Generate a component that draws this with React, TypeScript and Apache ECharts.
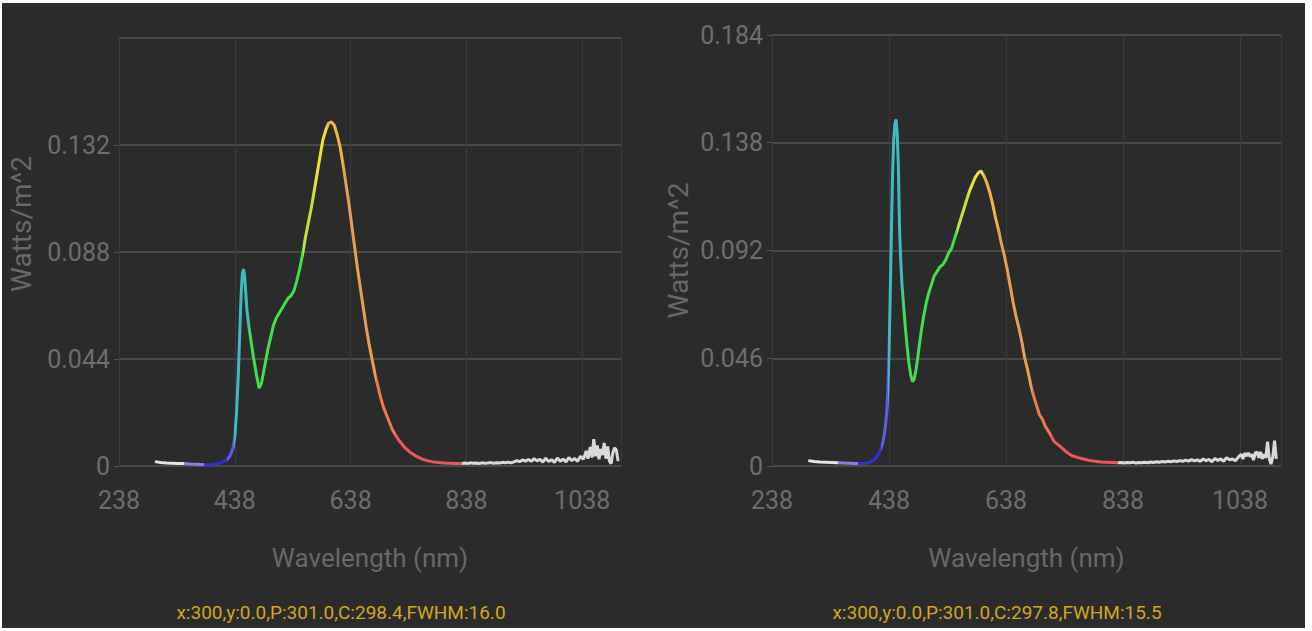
import React, { useEffect, useRef } from "react";
import * as echarts from "echarts";

// ---------- Left spectrum ----------
const leftWavelengths = [
  300, 310, 320, 330, 340, 350, 360, 370, 380, 390, 400, 410, 420, 425, 430, 435, 438, 441, 444, 447,
  449, 451, 453, 455, 457, 459, 462, 465, 470, 475, 480, 484, 488, 492, 496, 500, 505, 510, 515, 520,
  525, 530, 535, 540, 545, 550, 555, 560, 565, 570, 575, 580, 585, 590, 595, 600, 605, 610, 615, 620,
  625, 630, 635, 640, 645, 650, 655, 660, 665, 670, 675, 680, 685, 690, 695, 700, 705, 710, 715, 720,
  730, 740, 750, 760, 770, 780, 790, 800, 810, 820, 830,
  835, 840, 845, 850, 855, 860, 865, 870, 875, 880, 885, 890, 895, 900, 905, 910, 915, 920, 925, 930,
  935, 940, 945, 950, 955, 960, 965, 970, 975, 980, 985, 990, 995, 1000, 1005, 1010, 1015, 1020, 1025, 1030,
  1035, 1040, 1045, 1048, 1052, 1055, 1058, 1061, 1064, 1067, 1070, 1073, 1076, 1079, 1082, 1085, 1088, 1091, 1094, 1097,
  1100,
];
const leftValues = [
  0.0018, 0.0014, 0.0012, 0.0011, 0.001, 0.001, 0.0008, 0.0007, 0.0006, 0.0005, 0.0006, 0.001, 0.002, 0.0028, 0.0042, 0.0075, 0.012, 0.022, 0.037, 0.058,
  0.071, 0.079, 0.081, 0.078, 0.071, 0.064, 0.058, 0.053, 0.045, 0.038, 0.032, 0.034, 0.039, 0.044, 0.049, 0.053, 0.058, 0.061, 0.063, 0.065,
  0.067, 0.069, 0.07, 0.072, 0.076, 0.081, 0.087, 0.094, 0.1, 0.106, 0.113, 0.12, 0.127, 0.134, 0.138, 0.141, 0.1415, 0.14, 0.136, 0.131,
  0.124, 0.116, 0.108, 0.099, 0.09, 0.081, 0.073, 0.065, 0.057, 0.05, 0.044, 0.038, 0.033, 0.028, 0.024, 0.021, 0.018, 0.015, 0.013, 0.011,
  0.008, 0.0058, 0.0042, 0.003, 0.0022, 0.0017, 0.0014, 0.0012, 0.0011, 0.001, 0.001,
  0.0012, 0.001, 0.0013, 0.0011, 0.0012, 0.001, 0.0013, 0.0011, 0.0012, 0.0014, 0.0011, 0.0013, 0.0012, 0.0015, 0.0013, 0.0016, 0.0013, 0.0017, 0.0022, 0.0018,
  0.0025, 0.002, 0.0027, 0.0019, 0.003, 0.0021, 0.0028, 0.0016, 0.0032, 0.0018, 0.0026, 0.0015, 0.0033, 0.002, 0.0028, 0.0017, 0.0035, 0.0022, 0.0031, 0.0019,
  0.004, 0.0028, 0.0062, 0.003, 0.0078, 0.0035, 0.011, 0.004, 0.0085, 0.0028, 0.007, 0.0045, 0.0095, 0.003, 0.008, 0.002, 0.001, 0.0055, 0.0075, 0.0065,
  0.002,
];

// ---------- Right spectrum ----------
const rightWavelengths = [
  300, 310, 320, 330, 340, 350, 360, 370, 380, 390, 400, 405, 410, 415, 420, 425, 428, 431, 434, 436,
  438, 440, 442, 444, 446, 448, 450, 452, 454, 456, 458, 460, 463, 466, 469, 472, 475, 478, 481, 484,
  487, 490, 494, 498, 502, 506, 510, 515, 520, 525, 530, 535, 540, 545, 550, 555, 560, 565, 570, 575,
  580, 585, 590, 595, 600, 605, 610, 615, 620, 625, 630, 635, 640, 645, 650, 655, 660, 665, 670, 675,
  680, 685, 690, 695, 700, 705, 710, 715, 720, 730, 740, 750, 760, 770, 780, 790, 800, 810, 820, 830,
  835, 840, 845, 850, 855, 860, 865, 870, 875, 880, 885, 890, 895, 900, 905, 910, 915, 920, 925, 930,
  935, 940, 945, 950, 955, 960, 965, 970, 975, 980, 985, 990, 995, 1000, 1005, 1010, 1015, 1020, 1025, 1030,
  1035, 1040, 1043, 1046, 1049, 1052, 1055, 1058, 1061, 1064, 1067, 1070, 1073, 1076, 1079, 1082, 1085, 1088, 1091, 1094,
  1097, 1100,
];
const rightValues = [
  0.0023, 0.0019, 0.0017, 0.0016, 0.0015, 0.0014, 0.0013, 0.0012, 0.0011, 0.0011, 0.0012, 0.0016, 0.0022, 0.0033, 0.005, 0.008, 0.0105, 0.015, 0.0225, 0.032,
  0.048, 0.072, 0.099, 0.124, 0.139, 0.146, 0.148, 0.142, 0.128, 0.101, 0.088, 0.078, 0.068, 0.059, 0.051, 0.044, 0.039, 0.036, 0.037, 0.041,
  0.046, 0.052, 0.059, 0.065, 0.07, 0.074, 0.077, 0.081, 0.083, 0.085, 0.086, 0.088, 0.091, 0.093, 0.097, 0.101, 0.105, 0.109, 0.113, 0.117,
  0.12, 0.123, 0.125, 0.126, 0.124, 0.121, 0.117, 0.112, 0.106, 0.101, 0.095, 0.09, 0.084, 0.077, 0.07, 0.064, 0.059, 0.053, 0.046, 0.041,
  0.035, 0.03, 0.026, 0.022, 0.02, 0.017, 0.015, 0.013, 0.0105, 0.0085, 0.0062, 0.0045, 0.0037, 0.003, 0.0024, 0.002, 0.0017, 0.0016, 0.0015, 0.0014,
  0.0015, 0.0013, 0.0015, 0.0014, 0.0016, 0.0013, 0.0015, 0.0014, 0.0016, 0.0014, 0.0017, 0.0015, 0.0018, 0.0016, 0.0019, 0.0017, 0.002, 0.0018, 0.0022, 0.0019,
  0.0023, 0.002, 0.0025, 0.0021, 0.0027, 0.0022, 0.0026, 0.002, 0.003, 0.0023, 0.0028, 0.0018, 0.0032, 0.0024, 0.003, 0.002, 0.0036, 0.0026, 0.003, 0.0022,
  0.0038, 0.005, 0.003, 0.0055, 0.0042, 0.0056, 0.004, 0.005, 0.0025, 0.0055, 0.006, 0.0035, 0.006, 0.003, 0.005, 0.0035, 0.0104, 0.003, 0.0008, 0.004,
  0.0108, 0.003,
];

// ---------- Axes / labels ----------
const xTickStart = 238;
const xTickStep = 200;
const leftYStep = 0.044;
const leftYMax = 0.176;
const rightYStep = 0.046;
const rightYMax = 0.184;
const xAxisTitle = "Wavelength (nm)";
const yAxisTitle = "Watts/m^2";
const leftFooter = "x:300,y:0.0,P:301.0,C:298.4,FWHM:16.0";
const rightFooter = "x:300,y:0.0,P:301.0,C:297.8,FWHM:15.5";

// wavelength colour bands
const bandBreaks = [350, 385, 425, 437, 462, 555, 575, 598, 625, 682, 715, 830];
const bandColors = [
  "#e4e4e4", "#8a7fe2", "#3030d6", "#5c5cf0", "#3cbcc0", "#3fe04c", "#bfe33c", "#eee23a",
  "#f2b63e", "#e6a055", "#ee7b48", "#f0555b", "#d9d9d9",
];

const FONT = "Roboto";
const LABEL = "#6e6e6e";
const NAME = "#686868";

function pieces() {
  const out: any[] = [];
  for (let i = 0; i < bandColors.length; i++) {
    const p: any = { color: bandColors[i] };
    if (i > 0) p.gte = bandBreaks[i - 1];
    if (i < bandBreaks.length) p.lt = bandBreaks[i];
    out.push(p);
  }
  return out;
}

function toPairs(xs: number[], ys: number[]) {
  return xs.map((x, i) => [x, ys[i]]);
}

function fmtY(v: number) {
  if (v === 0) return "0";
  return String(Math.round(v * 1000) / 1000);
}

export default function App() {
  const ref = useRef<HTMLDivElement>(null);
  useEffect(() => {
    if (!ref.current) return;
    const chart = echarts.init(ref.current, null, { renderer: "svg" });

    const xAxisBase = (gridIndex: number, max: number) => ({
      type: "value",
      gridIndex,
      min: xTickStart,
      max,
      interval: xTickStep,
      name: xAxisTitle,
      nameLocation: "middle",
      nameGap: 79,
      nameTextStyle: { color: NAME, fontSize: 26, fontFamily: FONT },
      axisLine: { show: false },
      axisTick: { show: false },
      axisLabel: {
        color: LABEL,
        fontSize: 25,
        fontFamily: FONT,
        margin: 22,
        showMaxLabel: false,
        showMinLabel: true,
        formatter: (v: number) => String(Math.round(v)),
      },
      splitLine: { show: true, lineStyle: { color: "#3a3a3a", width: 1 } },
    });

    const yAxisBase = (gridIndex: number, max: number, step: number, showMax: boolean, gap: number, pad: number[]) => ({
      type: "value",
      gridIndex,
      min: 0,
      max,
      interval: step,
      name: yAxisTitle,
      nameLocation: "middle",
      nameGap: gap,
      nameTextStyle: { color: NAME, fontSize: 28, fontFamily: FONT, padding: pad },
      axisLine: { show: false },
      axisTick: { show: true, length: 5, lineStyle: { color: "#555555" } },
      axisLabel: {
        color: LABEL,
        fontSize: 25,
        fontFamily: FONT,
        margin: 9,
        showMaxLabel: showMax,
        formatter: fmtY,
      },
      splitLine: { show: true, lineStyle: { color: "#555555", width: 1.5 } },
    });

    chart.setOption({
      animation: false,
      backgroundColor: "transparent",
      grid: [
        { left: 117, top: 35, width: 502, height: 428 },
        { left: 770, top: 32, width: 509, height: 431 },
      ],
      xAxis: [xAxisBase(0, 1105), xAxisBase(1, 1108)],
      yAxis: [
        yAxisBase(0, leftYMax, leftYStep, false, 84, [0, 0, 0, 56]),
        yAxisBase(1, rightYMax, rightYStep, true, 80, [0, 0, 0, 0]),
      ],
      visualMap: [
        { type: "piecewise", show: false, dimension: 0, seriesIndex: 0, pieces: pieces() },
        { type: "piecewise", show: false, dimension: 0, seriesIndex: 1, pieces: pieces() },
      ],
      series: [
        {
          type: "line",
          xAxisIndex: 0,
          yAxisIndex: 0,
          data: toPairs(leftWavelengths, leftValues),
          showSymbol: false,
          lineStyle: { width: 3 },
          z: 5,
        },
        {
          type: "line",
          xAxisIndex: 1,
          yAxisIndex: 1,
          data: toPairs(rightWavelengths, rightValues),
          showSymbol: false,
          lineStyle: { width: 3 },
          z: 5,
        },
      ],
      graphic: [
        {
          type: "text",
          x: 339,
          y: 609,
          style: {
            text: leftFooter,
            fill: "#d4a61c",
            fontSize: 19,
            fontFamily: FONT,
            textAlign: "center",
            textVerticalAlign: "middle",
          },
        },
        {
          type: "text",
          x: 995,
          y: 609,
          style: {
            text: rightFooter,
            fill: "#d4a61c",
            fontSize: 19,
            fontFamily: FONT,
            textAlign: "center",
            textVerticalAlign: "middle",
          },
        },
      ],
    });
    return () => chart.dispose();
  }, []);

  return (
    <div style={{ position: "fixed", left: 0, top: 0, width: 1312, height: 631, background: "#ffffff" }}>
      <div
        style={{ position: "absolute", left: 2, top: 3, width: 1303, height: 625, background: "#2b2b2b" }}
      >
        <div ref={ref} style={{ width: 1303, height: 625 }} />
      </div>
    </div>
  );
}
